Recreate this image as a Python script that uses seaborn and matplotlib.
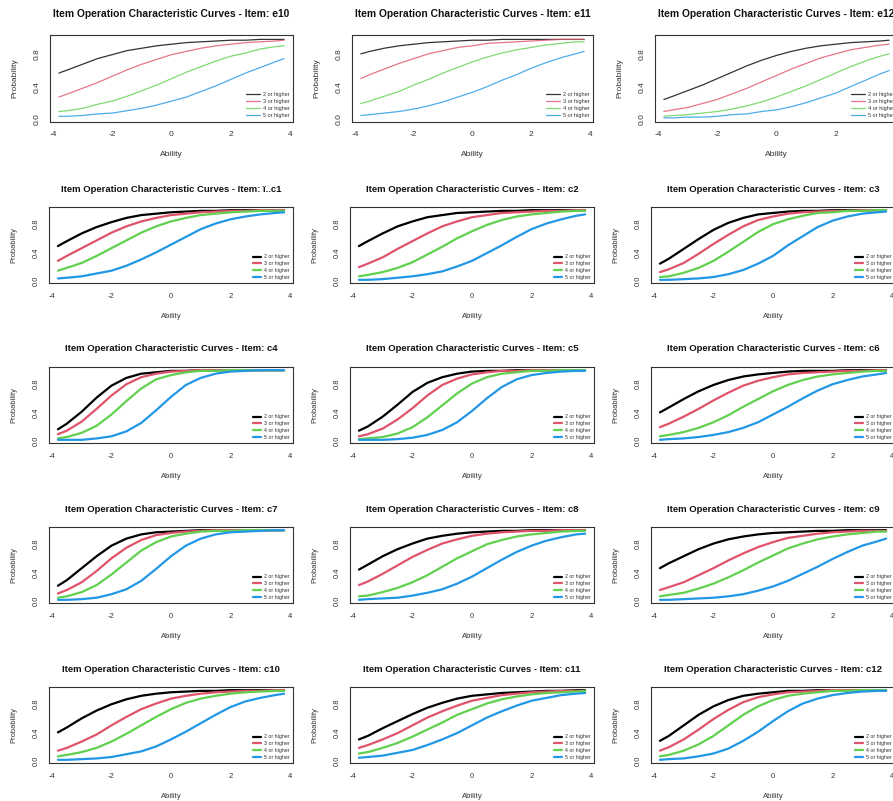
import numpy as np
import pandas as pd
import matplotlib
matplotlib.use("Agg")
import matplotlib.pyplot as plt
import seaborn as sns

# ---------------- data ----------------
ABILITY = [-3.8, -3.5, -3.0, -2.5, -2.0, -1.5, -1.0, -0.5, 0.0, 0.5,
           1.0, 1.5, 2.0, 2.5, 3.0, 3.5, 3.8]
LEVELS = ["2 or higher", "3 or higher", "4 or higher", "5 or higher"]
ITEM_NAMES = ["e10", "e11", "e12", "\u00ef..c1", "c2", "c3", "c4", "c5", "c6",
              "c7", "c8", "c9", "c10", "c11", "c12"]

e10 = [
    [.57, .61, .68, .75, .80, .85, .88, .91, .93, .95, .96, .97, .98, .98, .99, .99, .99],
    [.27, .31, .38, .45, .53, .61, .68, .74, .80, .84, .88, .91, .93, .95, .96, .97, .98],
    [.09, .10, .13, .18, .22, .28, .35, .42, .50, .58, .65, .72, .78, .82, .87, .90, .91],
    [.03, .03, .04, .06, .07, .10, .13, .17, .22, .27, .34, .41, .49, .57, .64, .71, .75],
]
e11 = [
    [.81, .84, .88, .91, .93, .95, .96, .97, .98, .98, .99, .99, .99, .99, .99, .99, .99],
    [.50, .55, .62, .69, .75, .81, .85, .89, .91, .94, .95, .96, .97, .98, .99, .99, .99],
    [.19, .22, .28, .34, .42, .49, .57, .64, .71, .77, .82, .86, .89, .92, .94, .96, .96],
    [.04, .05, .07, .09, .12, .16, .21, .27, .33, .40, .48, .55, .63, .70, .76, .81, .84],
]
e12 = [
    [.24, .28, .35, .42, .50, .58, .66, .73, .79, .84, .88, .91, .93, .95, .96, .97, .98],
    [.09, .11, .14, .19, .24, .31, .38, .46, .54, .62, .69, .76, .81, .86, .89, .92, .93],
    [.03, .04, .05, .07, .09, .12, .16, .21, .27, .34, .41, .49, .57, .65, .72, .78, .81],
    [.01, .01, .02, .02, .03, .05, .06, .09, .11, .15, .20, .26, .32, .40, .48, .56, .60],
]
c1 = [
    [.49, .56, .67, .76, .83, .89, .93, .95, .97, .98, .99, .99, 1.0, 1.0, 1.0, 1.0, 1.0],
    [.28, .35, .46, .57, .68, .77, .84, .89, .93, .95, .97, .98, .99, .99, 1.0, 1.0, 1.0],
    [.14, .18, .25, .35, .46, .57, .68, .77, .84, .89, .93, .95, .97, .98, .99, .99, .99],
    [.03, .04, .06, .10, .14, .21, .30, .40, .51, .62, .73, .81, .87, .91, .94, .96, .97],
]
c2 = [
    [.49, .56, .67, .77, .84, .90, .93, .96, .97, .98, .99, .99, 1.0, 1.0, 1.0, 1.0, 1.0],
    [.19, .24, .33, .45, .56, .67, .77, .84, .90, .93, .96, .97, .98, .99, .99, 1.0, 1.0],
    [.06, .08, .12, .18, .26, .37, .48, .60, .70, .79, .86, .91, .94, .96, .98, .99, .99],
    [.01, .01, .02, .04, .06, .09, .13, .20, .28, .39, .50, .62, .73, .81, .87, .92, .94],
]
c3 = [
    [.24, .31, .45, .59, .72, .82, .89, .94, .96, .98, .99, .99, 1.0, 1.0, 1.0, 1.0, 1.0],
    [.12, .16, .25, .38, .52, .65, .77, .86, .91, .95, .97, .98, .99, .99, 1.0, 1.0, 1.0],
    [.05, .06, .11, .18, .28, .41, .55, .69, .80, .87, .92, .96, .97, .99, .99, 1.0, 1.0],
    [.01, .01, .02, .03, .05, .09, .15, .24, .35, .50, .63, .76, .85, .91, .95, .97, .98],
]
c4 = [
    [.16, .24, .41, .61, .78, .89, .95, .97, .99, .99, 1.0, 1.0, 1.0, 1.0, 1.0, 1.0, 1.0],
    [.09, .14, .27, .45, .64, .80, .90, .95, .98, .99, 1.0, 1.0, 1.0, 1.0, 1.0, 1.0, 1.0],
    [.03, .05, .11, .21, .37, .56, .74, .87, .93, .97, .99, .99, 1.0, 1.0, 1.0, 1.0, 1.0],
    [.01, .01, .01, .03, .06, .13, .25, .43, .62, .79, .89, .95, .98, .99, 1.0, 1.0, 1.0],
]
c5 = [
    [.14, .20, .34, .51, .69, .82, .90, .95, .98, .99, .99, 1.0, 1.0, 1.0, 1.0, 1.0, 1.0],
    [.06, .09, .17, .30, .46, .64, .79, .88, .94, .97, .99, .99, 1.0, 1.0, 1.0, 1.0, 1.0],
    [.02, .03, .05, .10, .19, .33, .50, .67, .81, .90, .95, .97, .99, .99, 1.0, 1.0, 1.0],
    [.01, .01, .01, .02, .04, .08, .15, .26, .42, .60, .76, .87, .93, .96, .98, .99, .99],
]
c6 = [
    [.40, .47, .59, .70, .79, .86, .91, .94, .96, .98, .99, .99, .99, 1.0, 1.0, 1.0, 1.0],
    [.19, .24, .34, .45, .57, .68, .78, .85, .90, .94, .96, .97, .98, .99, .99, 1.0, 1.0],
    [.06, .08, .12, .18, .26, .36, .48, .59, .70, .79, .86, .91, .94, .96, .98, .99, .99],
    [.01, .02, .03, .05, .08, .12, .18, .26, .37, .48, .60, .71, .80, .86, .91, .94, .96],
]
c7 = [
    [.21, .29, .46, .63, .78, .88, .94, .97, .98, .99, 1.0, 1.0, 1.0, 1.0, 1.0, 1.0, 1.0],
    [.10, .15, .26, .42, .60, .75, .86, .93, .96, .98, .99, 1.0, 1.0, 1.0, 1.0, 1.0, 1.0],
    [.04, .06, .12, .22, .37, .54, .71, .83, .91, .95, .98, .99, .99, 1.0, 1.0, 1.0, 1.0],
    [.01, .01, .02, .04, .09, .16, .28, .45, .63, .78, .88, .94, .97, .98, .99, 1.0, 1.0],
]
c8 = [
    [.44, .51, .63, .73, .81, .88, .92, .95, .97, .98, .99, .99, 1.0, 1.0, 1.0, 1.0, 1.0],
    [.22, .27, .38, .50, .62, .72, .81, .87, .92, .95, .97, .98, .99, .99, 1.0, 1.0, 1.0],
    [.06, .07, .12, .18, .26, .36, .48, .60, .70, .80, .86, .91, .94, .96, .98, .99, .99],
    [.01, .02, .03, .04, .07, .11, .16, .24, .34, .46, .58, .69, .78, .85, .90, .94, .95],
]
c9 = [
    [.46, .53, .63, .73, .81, .87, .91, .94, .96, .97, .98, .99, .99, 1.0, 1.0, 1.0, 1.0],
    [.15, .19, .26, .36, .46, .57, .67, .76, .83, .89, .92, .95, .97, .98, .99, .99, .99],
    [.06, .08, .11, .17, .24, .33, .43, .54, .64, .74, .81, .87, .91, .94, .96, .98, .98],
    [.01, .01, .02, .03, .04, .06, .09, .14, .20, .28, .38, .48, .59, .69, .78, .84, .88],
]
c10 = [
    [.40, .47, .60, .71, .80, .87, .92, .95, .97, .98, .99, .99, 1.0, 1.0, 1.0, 1.0, 1.0],
    [.14, .18, .27, .37, .50, .62, .73, .81, .88, .92, .95, .97, .98, .99, .99, 1.0, 1.0],
    [.06, .08, .12, .18, .27, .38, .50, .62, .73, .82, .88, .92, .95, .97, .98, .99, .99],
    [.01, .01, .02, .03, .05, .09, .13, .20, .30, .41, .53, .65, .76, .84, .89, .93, .95],
]
c11 = [
    [.30, .35, .46, .56, .66, .75, .82, .88, .92, .94, .96, .97, .98, .99, .99, 1.0, 1.0],
    [.18, .22, .30, .39, .50, .61, .70, .78, .85, .89, .93, .95, .97, .98, .99, .99, .99],
    [.10, .12, .18, .25, .34, .44, .54, .65, .73, .81, .87, .91, .94, .96, .97, .98, .99],
    [.04, .05, .07, .11, .15, .22, .30, .39, .50, .61, .70, .78, .85, .89, .93, .95, .96],
]
c12 = [
    [.28, .35, .50, .65, .77, .86, .92, .95, .97, .99, .99, 1.0, 1.0, 1.0, 1.0, 1.0, 1.0],
    [.14, .19, .30, .44, .59, .72, .83, .90, .94, .97, .98, .99, 1.0, 1.0, 1.0, 1.0, 1.0],
    [.06, .08, .14, .23, .35, .50, .65, .77, .86, .92, .95, .97, .99, .99, 1.0, 1.0, 1.0],
    [.01, .02, .03, .06, .10, .17, .28, .41, .56, .70, .81, .88, .93, .96, .98, .99, .99],
]
PANELS = [e10, e11, e12, c1, c2, c3, c4, c5, c6, c7, c8, c9, c10, c11, c12]
COLORS = ["#000000", "#DF536B", "#61D04F", "#2297E6"]

# ---------------- style / layout ----------------
sns.set_style("white")
plt.rcParams["font.family"] = ["Liberation Sans", "DejaVu Sans"]

W, H = 893, 801
fig = plt.figure(figsize=(W / 100, H / 100), dpi=100)
fig.patch.set_facecolor("white")

ROW1_COLS = [(50, 293), (352, 593), (655, 898)]
ROW_COLS = [(49, 293), (350, 594), (651, 895)]
ROW_TOPS = [35, 207, 367, 527, 687]
AX_COLOR = "#333333"


def rect(l, t, r, b):
    return [l / W, 1 - b / H, (r - l) / W, (b - t) / H]


palette = dict(zip(LEVELS, COLORS))

for i, (name, curves) in enumerate(zip(ITEM_NAMES, PANELS)):
    row, col = divmod(i, 3)
    if row == 0:
        l, r = ROW1_COLS[col]
        t, b = ROW_TOPS[0], 121.5
        lw, fs, tfs, lfs, hl = 0.9, 6.0, 7.4, 4.0, 2.4
        title_y = 14
        alpha = 0.8
    else:
        l, r = ROW_COLS[col]
        t = ROW_TOPS[row]
        b = t + 76
        lw, fs, tfs, lfs, hl = 1.6, 5.5, 6.8, 3.75, 1.6
        title_y = t - 18
        alpha = 1.0
    ax = fig.add_axes(rect(l, t, r, b))
    df = pd.DataFrame({
        "Ability": ABILITY * 4,
        "Probability": [v for c in curves for v in c],
        "Level": np.repeat(LEVELS, len(ABILITY)),
    })
    sns.lineplot(data=df, x="Ability", y="Probability", hue="Level",
                 hue_order=LEVELS, palette=palette, ax=ax, linewidth=lw,
                 legend=False, estimator=None, sort=False, alpha=alpha)
    ax.set_xlim(-4.1, 4.1)
    ax.set_ylim(-0.035, 1.045)
    ax.set_xticks([-4, -2, 0, 2, 4])
    ax.set_xticklabels(["-4", "-2", "0", "2", "4"])
    ax.set_yticks([0, 0.2, 0.4, 0.6, 0.8, 1.0])
    ax.set_yticklabels(["0.0", "", "0.4", "", "0.8", ""])
    ax.tick_params(direction="out", length=3, width=0.6, colors=AX_COLOR,
                   labelsize=fs, labelcolor="#333333")
    ax.tick_params(axis="x", pad=4.0)
    ax.tick_params(axis="y", labelrotation=90, pad=4.0)
    for lab in ax.get_yticklabels():
        lab.set_va("center")
    for sp in ax.spines.values():
        sp.set_visible(True)
        sp.set_color(AX_COLOR)
        sp.set_linewidth(0.8)
    ax.set_xlabel("Ability", fontsize=fs, color="#333333")
    ax.set_ylabel("Probability", fontsize=fs, color="#333333")
    ax.xaxis.set_label_coords(0.5, -33 / (b - t))
    ax.xaxis.label.set_va("center")
    ax.yaxis.set_label_coords(-35 / (r - l), 0.5)
    ax.yaxis.label.set_va("center")
    ax.legend(ax.get_lines()[:4], LEVELS, loc="lower right", frameon=False,
              fontsize=lfs, handlelength=hl, handletextpad=0.6,
              labelspacing=0.35, borderaxespad=0.3, borderpad=0.3,
              labelcolor="#333333")
    fig.text((l + r) / 2 / W, 1 - title_y / H,
             f"Item Operation Characteristic Curves - Item: {name}",
             ha="center", va="center", fontsize=tfs, fontweight="bold",
             color="#111111")

fig.savefig("out.png", dpi=100, facecolor="white")
